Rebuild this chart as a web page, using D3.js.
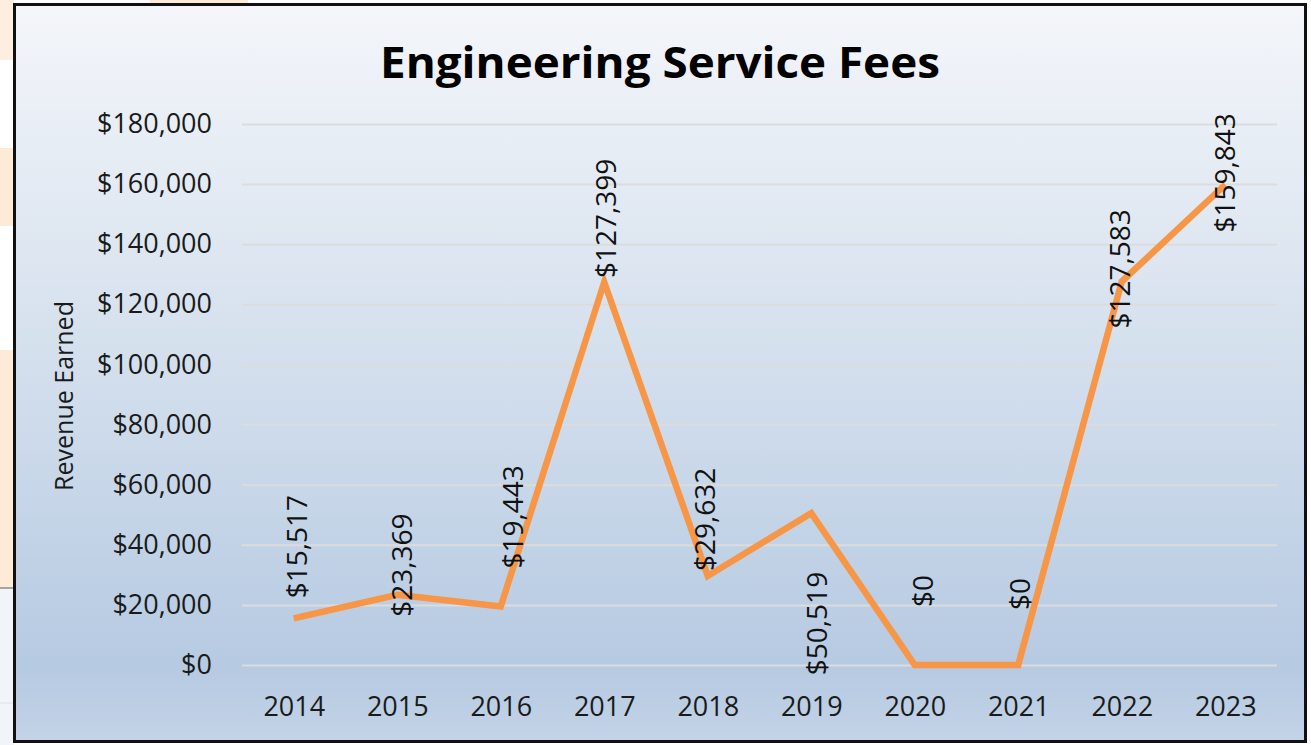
<!DOCTYPE html>
<html>
<head>
<meta charset="utf-8">
<script src="https://cdn.jsdelivr.net/npm/d3@7"></script>
<style>
  body { margin: 0; background: #fff; }
  svg { display: block; }
</style>
</head>
<body>
<div id="chart"></div>
<script>
// data
var years = ["2014", "2015", "2016", "2017", "2018", "2019", "2020", "2021", "2022", "2023"];
var fees = [15517, 23369, 19443, 127399, 29632, 50519, 0, 0, 127583, 159843];
var yTicks = [0, 20000, 40000, 60000, 80000, 100000, 120000, 140000, 160000, 180000];
var title = "Engineering Service Fees";
var yTitle = "Revenue Earned";

var width = 1311;
var height = 745;
var font = "'Open Sans', 'Noto Sans', sans-serif";

var svg = d3.select("#chart")
    .append("svg")
    .attr("width", width)
    .attr("height", height);

var defs = svg.append("defs");
var grad = defs.append("linearGradient")
    .attr("id", "bg")
    .attr("x1", 0).attr("y1", 0)
    .attr("x2", 0).attr("y2", 1);
grad.append("stop").attr("offset", "0%").attr("stop-color", "#f4f6fa");
grad.append("stop").attr("offset", "45%").attr("stop-color", "#d6e1ee");
grad.append("stop").attr("offset", "90%").attr("stop-color", "#b6cae2");
grad.append("stop").attr("offset", "100%").attr("stop-color", "#c3d3e7");

// bits of the slide behind the chart
var slide = svg.append("g");
slide.append("rect").attr("x", 0).attr("y", 0).attr("width", 14).attr("height", 60).attr("fill", "#fdeedf");
slide.append("rect").attr("x", 0).attr("y", 148).attr("width", 14).attr("height", 78).attr("fill", "#fdebd8");
slide.append("rect").attr("x", 0).attr("y", 350).attr("width", 14).attr("height", 238).attr("fill", "#fdebd8");
slide.append("rect").attr("x", 0).attr("y", 589).attr("width", 14).attr("height", 156).attr("fill", "#f1f4f8");
slide.append("line").attr("x1", 0).attr("x2", 14).attr("y1", 588).attr("y2", 588).attr("stroke", "#8a8a8a").attr("stroke-width", 1.5);
slide.append("line").attr("x1", 0).attr("x2", 14).attr("y1", 703).attr("y2", 703).attr("stroke", "#dde1e6").attr("stroke-width", 1);
slide.append("rect").attr("x", 150).attr("y", 0).attr("width", 98).attr("height", 4).attr("fill", "#fdebd8");

// chart area
svg.append("rect")
    .attr("x", 14.5).attr("y", 4.5)
    .attr("width", 1291).attr("height", 737)
    .attr("fill", "url(#bg)")
    .attr("stroke", "#111")
    .attr("stroke-width", 3);

var x = d3.scalePoint()
    .domain(years)
    .range([242, 1277])
    .padding(0.5);

var y = d3.scaleLinear()
    .domain([0, 180000])
    .range([665, 124]);

var money = function(v) { return "$" + d3.format(",")(v); };

// gridlines
var yAxis = d3.axisLeft(y)
    .tickValues(yTicks)
    .tickSize(-(1277 - 242))
    .tickPadding(30)
    .tickFormat(money);

var gy = svg.append("g")
    .attr("transform", "translate(242,0)")
    .call(yAxis);
gy.select(".domain").remove();
gy.selectAll(".tick line")
    .attr("stroke", "#dcdcdc")
    .attr("stroke-width", 2);
gy.selectAll(".tick text")
    .attr("fill", "#1a1a1a")
    .style("font-family", font)
    .style("font-size", "27px");

var xAxis = d3.axisBottom(x).tickSize(0).tickPadding(0);
var gx = svg.append("g")
    .attr("transform", "translate(0,697)")
    .call(xAxis);
gx.select(".domain").remove();
gx.selectAll(".tick text")
    .attr("dy", "0.71em")
    .attr("fill", "#1a1a1a")
    .style("font-family", font)
    .style("font-size", "27px");

// line
var line = d3.line()
    .x(function(d, i) { return x(years[i]); })
    .y(function(d) { return y(d); });

svg.append("path")
    .datum(fees)
    .attr("d", line)
    .attr("fill", "none")
    .attr("stroke", "#f79646")
    .attr("stroke-width", 6.5)
    .attr("stroke-linejoin", "miter");

// data labels sit where they were dragged in the original
var labelNudge = [[3, -20], [5, 22], [12, -38], [2, -4], [-3, -5], [6, 162], [8, -58], [2, -55], [-2, 47], [0, 48]];

svg.append("g")
    .selectAll("text")
    .data(fees)
    .enter()
    .append("text")
    .attr("transform", function(d, i) {
        return "translate(" + (x(years[i]) + labelNudge[i][0]) + "," + (y(d) + labelNudge[i][1]) + ") rotate(-90)";
    })
    .attr("dy", "0.36em")
    .attr("fill", "#111")
    .style("font-family", font)
    .style("font-size", "28px")
    .text(money);

// titles
svg.append("text")
    .attr("x", 660)
    .attr("y", 78)
    .attr("text-anchor", "middle")
    .attr("textLength", 560)
    .attr("lengthAdjust", "spacingAndGlyphs")
    .attr("fill", "#000")
    .style("font-family", font)
    .style("font-weight", "bold")
    .style("font-size", "43px")
    .text(title);

svg.append("text")
    .attr("transform", "translate(73,396) rotate(-90)")
    .attr("text-anchor", "middle")
    .attr("fill", "#1a1a1a")
    .style("font-family", font)
    .style("font-size", "25px")
    .text(yTitle);
</script>
</body>
</html>
